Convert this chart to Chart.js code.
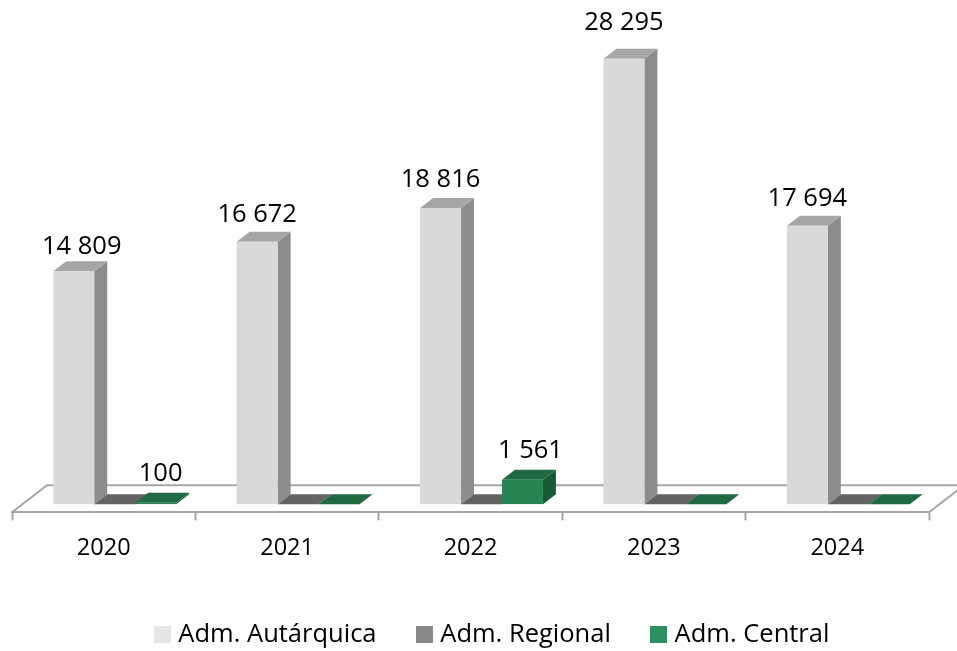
<!DOCTYPE html>
<html>
<head>
<meta charset="UTF-8">
<title>Adm.</title>
<script src="https://cdn.jsdelivr.net/npm/chart.js@4"></script>
<style>
  html, body { margin: 0; padding: 0; background: #fff; }
  canvas { display: block; }
</style>
</head>
<body>
<canvas id="myChart" width="957" height="651"></canvas>
<script>
var years = ['2020', '2021', '2022', '2023', '2024'];
var autarquica = [14809, 16672, 18816, 28295, 17694];
var regional = [0, 0, 0, 0, 0];
var central = [100, 0, 1561, 0, 0];
var seriesNames = ['Adm. Autárquica', 'Adm. Regional', 'Adm. Central'];

var frontColors = ['#d9d9d9', '#7f7f7f', '#278555'];
var sideColors = ['#8c8c8c', '#595959', '#175a38'];
var topColors = ['#a6a6a6', '#636363', '#1f6a43'];
var legendColors = ['#e6e6e6', '#888888', '#2e9060'];

var FONT = '"Open Sans"';
var BAR_SHIFT_X = 11, BAR_SHIFT_Y = -8;   // bars stand on the middle of the floor
var DEPTH_X = 13, DEPTH_Y = -10;          // bar depth
var FLOOR_X = 35, FLOOR_Y = -27;          // floor depth
var LEGEND_SHIFT = 24;

// hand moved labels, "dataset-category": [dx, dy]
var labelNudge = { '0-0': [8, 4], '0-1': [0, 1], '0-3': [0, -8], '0-4': [0, 1], '2-0': [5, -1], '2-2': [8, -1] };

function spaced(v) {
  return String(v).replace(/\B(?=(\d{3})+$)/g, ' ');
}

function swatch(color) {
  var c = document.createElement('canvas');
  c.width = 17; c.height = 17;
  var g = c.getContext('2d');
  g.fillStyle = color;
  g.fillRect(0, 0, 17, 17);
  return c;
}

function poly(ctx, pts, color) {
  ctx.fillStyle = color;
  ctx.beginPath();
  ctx.moveTo(pts[0][0], pts[0][1]);
  for (var i = 1; i < pts.length; i++) ctx.lineTo(pts[i][0], pts[i][1]);
  ctx.closePath();
  ctx.fill();
}

var floorAndDepth = {
  id: 'floorAndDepth',
  afterLayout: function (chart) {
    // legend is centred on the whole picture side, not the plot
    chart.legend.left += LEGEND_SHIFT;
    chart.legend.right += LEGEND_SHIFT;
  },
  beforeDatasetsDraw: function (chart) {
    var ctx = chart.ctx, a = chart.chartArea;
    // floor
    ctx.save();
    ctx.strokeStyle = '#a6a6a6';
    ctx.lineWidth = 2;
    ctx.beginPath();
    ctx.moveTo(a.left, a.bottom);
    ctx.lineTo(a.left + FLOOR_X, a.bottom + FLOOR_Y);
    ctx.lineTo(a.right + FLOOR_X, a.bottom + FLOOR_Y);
    ctx.lineTo(a.right, a.bottom);
    ctx.stroke();
    ctx.restore();

    ctx.save();
    ctx.translate(BAR_SHIFT_X, BAR_SHIFT_Y);
    chart.data.datasets.forEach(function (ds, d) {
      chart.getDatasetMeta(d).data.forEach(function (bar) {
        var l = bar.x - bar.width / 2, r = bar.x + bar.width / 2;
        if (bar.base - bar.y > 0) {
          poly(ctx, [[r, bar.y], [r + DEPTH_X, bar.y + DEPTH_Y], [r + DEPTH_X, bar.base + DEPTH_Y], [r, bar.base]], sideColors[d]);
        }
        poly(ctx, [[l, bar.y], [l + DEPTH_X, bar.y + DEPTH_Y], [r + DEPTH_X, bar.y + DEPTH_Y], [r, bar.y]], topColors[d]);
      });
    });
    // stays translated for the front faces the library draws
  },
  afterDatasetsDraw: function (chart) {
    var ctx = chart.ctx;
    ctx.restore();
    ctx.save();
    ctx.fillStyle = '#000';
    ctx.font = '25.5px ' + FONT;
    ctx.textAlign = 'center';
    ctx.textBaseline = 'middle';
    chart.data.datasets.forEach(function (ds, d) {
      chart.getDatasetMeta(d).data.forEach(function (bar, i) {
        var v = ds.data[i];
        if (!v) return;
        var nudge = labelNudge[d + '-' + i] || [0, 0];
        ctx.fillText(spaced(v), bar.x + BAR_SHIFT_X + nudge[0], bar.y + BAR_SHIFT_Y - 28 + nudge[1]);
      });
    });
    ctx.restore();
  }
};

new Chart(document.getElementById('myChart'), {
  type: 'bar',
  data: {
    labels: years,
    datasets: [
      { label: seriesNames[0], data: autarquica, backgroundColor: frontColors[0] },
      { label: seriesNames[1], data: regional, backgroundColor: frontColors[1] },
      { label: seriesNames[2], data: central, backgroundColor: frontColors[2] }
    ]
  },
  options: {
    responsive: false,
    animation: false,
    layout: { padding: { left: 12, right: 28, top: 40, bottom: -6 } },
    datasets: { bar: { categoryPercentage: 0.67, barPercentage: 1 } },
    plugins: {
      tooltip: { enabled: false },
      legend: {
        position: 'bottom',
        labels: {
          color: '#000',
          font: { family: FONT, size: 25.5 },
          usePointStyle: true,
          pointStyleWidth: 6,
          boxHeight: 6,
          padding: 45,
          generateLabels: function (chart) {
            return chart.data.datasets.map(function (ds, i) {
              return { text: ds.label, pointStyle: swatch(legendColors[i]), fillStyle: legendColors[i], strokeStyle: legendColors[i], lineWidth: 0, datasetIndex: i, hidden: false };
            });
          }
        }
      }
    },
    scales: {
      x: {
        grid: { drawOnChartArea: false, tickLength: 8, tickColor: '#a6a6a6', tickWidth: 2 },
        border: { color: '#a6a6a6', width: 2 },
        ticks: { color: '#000', font: { family: FONT, size: 23.5 }, padding: 14, maxRotation: 0 }
      },
      y: { display: false, min: 0, max: 30000 }
    }
  },
  plugins: [floorAndDepth]
});
</script>
</body>
</html>
